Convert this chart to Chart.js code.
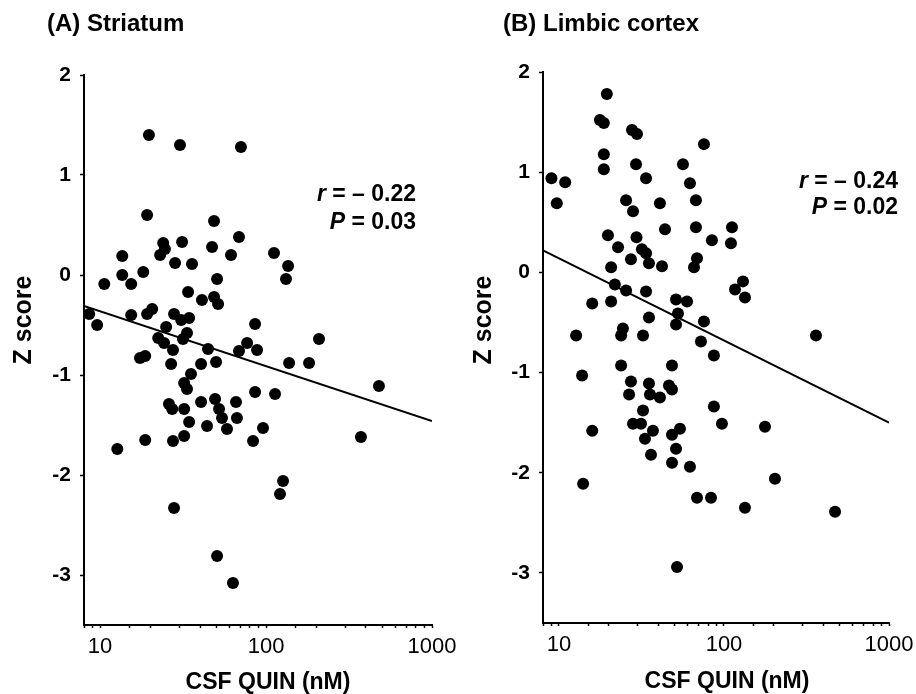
<!DOCTYPE html>
<html>
<head>
<meta charset="utf-8">
<title>CSF QUIN vs Z score</title>
<script src="https://cdn.jsdelivr.net/npm/chart.js@4.4.1/dist/chart.umd.min.js"></script>
<style>
  html, body { margin: 0; padding: 0; background: #fff; }
  #wrap { position: relative; width: 916px; height: 694px; }
  canvas { position: absolute; top: 0; }
  #panel-a { left: 0; }
  #panel-b { left: 458px; }
</style>
</head>
<body>
<div id="wrap">
  <canvas id="panel-a" width="458" height="694"></canvas>
  <canvas id="panel-b" width="458" height="694"></canvas>
</div>
<script>
// Values: CSF QUIN (nM) and Z score for each subject
const striatumQuin = [
  19.7, 30.3, 70.6, 19.2, 48.6, 68.7, 31.2, 24.0, 24.6, 47.3,
  13.6, 23.0, 111.7, 61.5, 28.3, 35.8, 135.8, 18.2, 13.6, 15.4,
  10.6, 50.7, 131.9, 33.9, 41.1, 48.6, 51.4, 8.6, 9.6, 15.4,
  19.2, 20.6, 27.9, 30.8, 34.4, 25.0, 22.4, 24.3, 27.5, 31.6,
  33.4, 85.9, 208.5, 44.7, 68.7, 76.9, 88.3, 17.4, 18.7, 26.8,
  40.6, 50.0, 137.7, 181.6, 35.3, 32.1, 33.4, 479, 85.9, 113.3,
  26.0, 27.2, 32.1, 40.6, 49.3, 52.1, 54.3, 65.9, 66.8, 34.4,
  44.1, 58.2, 95.9, 18.7, 27.5, 32.1, 83.5, 373, 12.7, 126.6,
  121.4, 27.9, 50.7, 63.2,
];
const striatumZ = [
  1.40, 1.30, 1.28, 0.60, 0.54, 0.38, 0.33, 0.32, 0.26, 0.28,
  0.19, 0.20, 0.22, 0.20, 0.12, 0.11, 0.09, 0.03, 0.0, -0.09,
  -0.09, -0.04, -0.04, -0.17, -0.25, -0.22, -0.29, -0.39, -0.50, -0.40,
  -0.39, -0.34, -0.39, -0.45, -0.43, -0.52, -0.63, -0.68, -0.75, -0.64,
  -0.58, -0.49, -0.64, -0.74, -0.76, -0.68, -0.75, -0.83, -0.81, -0.89,
  -0.89, -0.87, -0.88, -0.88, -0.99, -1.08, -1.14, -1.11, -1.17, -1.19,
  -1.29, -1.34, -1.34, -1.27, -1.24, -1.34, -1.43, -1.27, -1.43, -1.47,
  -1.51, -1.54, -1.53, -1.65, -1.66, -1.61, -1.66, -1.62, -1.74, -2.06,
  -2.19, -2.33, -2.81, -3.08,
];

const limbicQuin = [
  19.5, 17.7, 18.7, 27.7, 29.7, 75.6, 18.7, 18.7, 29.3, 56.4,
  33.7, 62.2, 9.0, 10.9, 9.7, 25.5, 28.1, 40.9, 67.6, 43.9,
  67.6, 111.8, 19.8, 29.5, 22.8, 31.8, 33.7, 84.5, 110.2, 27.3,
  35.1, 42.1, 20.7, 68.6, 65.8, 130.3, 116.6, 134.0, 21.8, 25.5,
  33.7, 15.9, 20.7, 51.2, 59.7, 52.6, 35.1, 51.2, 75.6, 24.4,
  23.8, 12.7, 32.3, 361, 72.5, 86.9, 23.8, 48.4, 13.8, 27.3,
  26.6, 35.1, 35.6, 46.4, 48.4, 40.9, 86.9, 32.3, 28.1, 31.4,
  37.1, 33.2, 15.9, 48.4, 54.1, 97.2, 177.2, 51.2, 36.1, 48.4,
  62.2, 14.0, 203.7, 68.6, 83.4, 134.0, 471, 51.9,
];
const limbicZ = [
  1.78, 1.52, 1.49, 1.42, 1.38, 1.28, 1.18, 1.03, 1.08, 1.08,
  0.94, 0.89, 0.94, 0.90, 0.69, 0.72, 0.61, 0.69, 0.72, 0.43,
  0.45, 0.45, 0.37, 0.35, 0.25, 0.23, 0.19, 0.32, 0.29, 0.13,
  0.09, 0.06, 0.05, 0.14, 0.05, -0.09, -0.17, -0.25, -0.12, -0.18,
  -0.19, -0.31, -0.29, -0.27, -0.29, -0.41, -0.45, -0.52, -0.49, -0.56,
  -0.63, -0.63, -0.63, -0.63, -0.69, -0.83, -0.93, -0.93, -1.03, -1.09,
  -1.22, -1.11, -1.22, -1.13, -1.17, -1.25, -1.34, -1.38, -1.51, -1.51,
  -1.58, -1.66, -1.58, -1.62, -1.56, -1.51, -1.54, -1.76, -1.82, -1.90,
  -1.94, -2.11, -2.06, -2.25, -2.25, -2.35, -2.39, -2.94,
];

// Regression lines, given by their ends at the axis limits
const fitQuin = [8, 1000];
const striatumFitZ = [-0.31, -1.46];
const limbicFitZ = [0.22, -1.5];

const xTickLabels = [10, 100, 1000];
const yTickValues = [-3, -2, -1, 0, 1, 2];
const panelTitles = ["(A) Striatum", "(B) Limbic cortex"];
const rValues = ["– 0.22", "– 0.24"];
const pValues = ["0.03", "0.02"];
const xTitle = "CSF QUIN (nM)";
const yTitle = "Z score";

const FAMILY = "'Liberation Sans', Arial, Helvetica, sans-serif";

// Draws panel title, axis titles and the r / P note
const panelText = {
  id: "panelText",
  afterDraw(chart, args, opts) {
    const ctx = chart.ctx;
    ctx.save();
    ctx.fillStyle = "#000";
    ctx.textBaseline = "middle";

    ctx.font = `bold 24px ${FAMILY}`;
    ctx.textAlign = "left";
    ctx.fillText(opts.title, opts.titleX, opts.titleY);

    ctx.font = `bold 23px ${FAMILY}`;
    ctx.textAlign = "center";
    ctx.fillText(xTitle, opts.xTitleX, opts.xTitleY);

    ctx.save();
    ctx.translate(opts.yTitleX, opts.yTitleY);
    ctx.rotate(-Math.PI / 2);
    ctx.font = `bold 25px ${FAMILY}`;
    ctx.fillText(yTitle, 0, 0);
    ctx.restore();

    drawStat(ctx, "r", " = " + opts.r, opts.statX, opts.statY1);
    drawStat(ctx, "P", " = " + opts.p, opts.statX, opts.statY2);
    ctx.restore();
  },
};

function drawStat(ctx, letter, rest, right, y) {
  ctx.font = `bold 23px ${FAMILY}`;
  ctx.textAlign = "right";
  ctx.fillText(rest, right, y);
  const w = ctx.measureText(rest).width;
  ctx.font = `italic bold 23px ${FAMILY}`;
  ctx.fillText(letter, right - w, y);
}

function buildPanel(id, quin, z, fitZ, layout, text) {
  const points = quin.map((q, i) => ({ x: q, y: z[i] }));
  const fit = fitQuin.map((q, i) => ({ x: q, y: fitZ[i] }));

  return new Chart(document.getElementById(id), {
    type: "scatter",
    data: {
      datasets: [
        {
          data: points,
          backgroundColor: "#000",
          borderWidth: 0,
          pointRadius: 6,
          pointHoverRadius: 6,
        },
        {
          type: "line",
          data: fit,
          borderColor: "#000",
          borderWidth: 2,
          pointRadius: 0,
          fill: false,
        },
      ],
    },
    options: {
      responsive: false,
      animation: false,
      events: [],
      layout: {
        padding: { left: 0, top: layout.top, right: layout.right, bottom: 0 },
      },
      plugins: {
        legend: { display: false },
        tooltip: { enabled: false },
        panelText: text,
      },
      scales: {
        x: {
          type: "logarithmic",
          min: 8,
          max: 1000,
          afterFit: (scale) => {
            scale.height = layout.xHeight;
            // keep the plot edge fixed; the "1000" label has room in the margin
            scale.paddingLeft = 0;
            scale.paddingRight = 0;
          },
          border: { color: "#000", width: 2 },
          grid: {
            drawOnChartArea: false,
            tickLength: 3,
            tickColor: "#000",
            tickWidth: 1.5,
          },
          ticks: {
            autoSkip: false,
            maxRotation: 0,
            padding: 6,
            color: "#000",
            font: { family: FAMILY, size: 22 },
            callback: (value) =>
              xTickLabels.includes(Math.round(value)) ? String(Math.round(value)) : "",
          },
        },
        y: {
          min: -3.5,
          max: 2,
          afterFit: (scale) => {
            scale.width = layout.yWidth;
            scale.paddingTop = 0;
            scale.paddingBottom = 0;
          },
          afterBuildTicks: (scale) => {
            scale.ticks = yTickValues.map((v) => ({ value: v }));
          },
          border: { color: "#000", width: 2 },
          grid: {
            drawOnChartArea: false,
            tickLength: 4,
            tickColor: "#000",
            tickWidth: 1.5,
          },
          ticks: {
            padding: 9,
            color: "#000",
            font: { family: FAMILY, size: 21, weight: "bold" },
            callback: (value) => String(value),
          },
        },
      },
    },
    plugins: [panelText],
  });
}

buildPanel(
  "panel-a",
  striatumQuin,
  striatumZ,
  striatumFitZ,
  { top: 75, right: 26, yWidth: 84, xHeight: 69 },
  {
    title: panelTitles[0], titleX: 47, titleY: 24,
    xTitleX: 268, xTitleY: 683,
    yTitleX: 24, yTitleY: 320,
    r: rValues[0], p: pValues[0],
    statX: 416, statY1: 195, statY2: 223,
  }
);

buildPanel(
  "panel-b",
  limbicQuin,
  limbicZ,
  limbicFitZ,
  { top: 72, right: 27, yWidth: 85, xHeight: 71 },
  {
    title: panelTitles[1], titleX: 45, titleY: 24,
    xTitleX: 269, xTitleY: 682,
    yTitleX: 26, yTitleY: 320,
    r: rValues[1], p: pValues[1],
    statX: 440, statY1: 182, statY2: 208,
  }
);
</script>
</body>
</html>
